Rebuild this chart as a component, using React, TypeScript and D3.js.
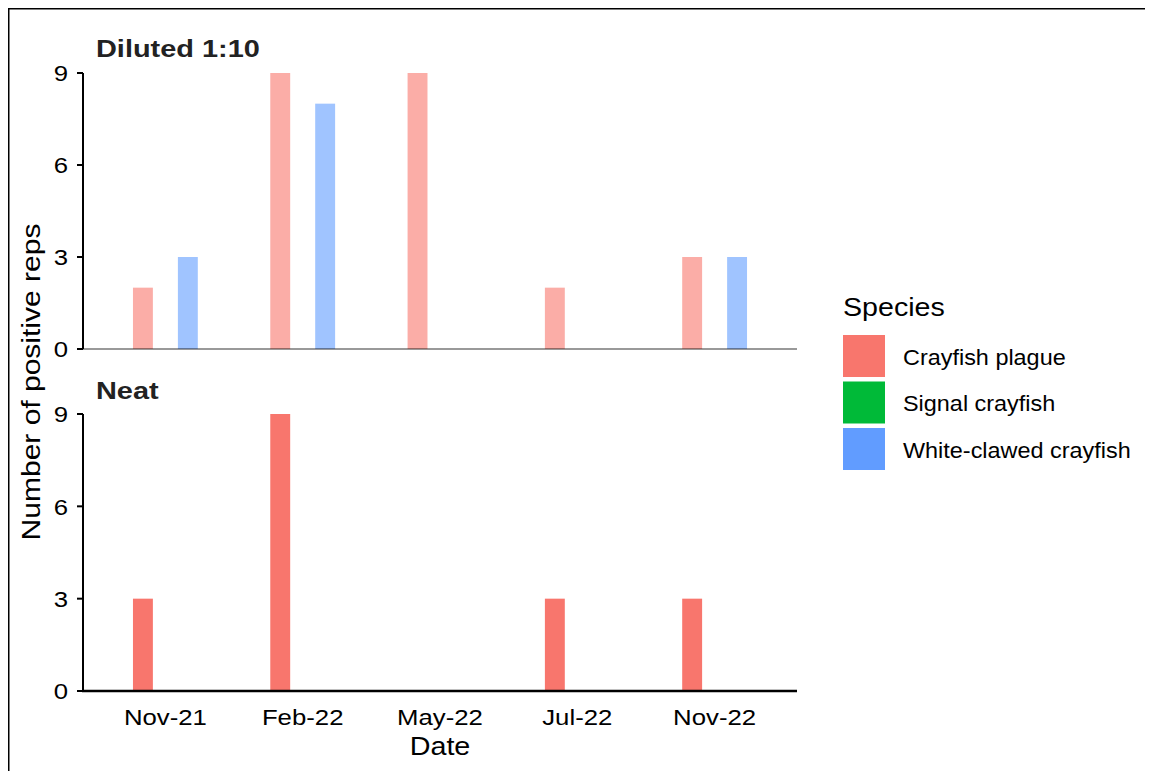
import React from "react";
import * as d3 from "d3";

const dates = ["Nov-21", "Feb-22", "May-22", "Jul-22", "Nov-22"];
const species = ["Crayfish plague", "Signal crayfish", "White-clawed crayfish"];
const speciesColors = ["#F8766D", "#00BA38", "#619CFF"];
const yTicks = [0, 3, 6, 9];

// values per date, in species order
const dilutedPlague = [2, 9, 9, 2, 3];
const dilutedSignal = [0, 0, 0, 0, 0];
const dilutedWhite = [3, 8, 0, 0, 3];
const neatPlague = [3, 9, 0, 3, 3];
const neatSignal = [0, 0, 0, 0, 0];
const neatWhite = [0, 0, 0, 0, 0];

const panels = [
  { title: "Diluted 1:10", series: [dilutedPlague, dilutedSignal, dilutedWhite], faded: true },
  { title: "Neat", series: [neatPlague, neatSignal, neatWhite], faded: false },
];

const FONT = "'Liberation Sans', Arial, sans-serif";
const OFF = 8; // body margin, draw in page coordinates

// text with a small horizontal stretch, the reference font runs wide
const T = ({ x, y, sx = 1.12, rot = 0, size, anchor = "start", weight = "normal", fill = "#000", dy, children }: any) => (
  <text
    transform={`translate(${x},${y}) rotate(${rot}) scale(${sx},1)`}
    textAnchor={anchor}
    fontSize={size}
    fontWeight={weight}
    fill={fill}
    dy={dy}
  >
    {children}
  </text>
);

const App = () => {
  const left = 83;
  const right = 797;
  const x = d3.scalePoint<string>().domain(dates).range([left, right]).padding(0.6);
  const step = x.step();
  const slot = step * 0.1636;
  const barW = step * 0.145;
  const dodge = d3
    .scaleBand<string>()
    .domain(species)
    .range([-slot * 1.5, slot * 1.5]);

  const panelY = [
    { top: 73, bottom: 349 },
    { top: 414, bottom: 691 },
  ];

  return (
    <svg width={1145} height={763} style={{ display: "block", fontFamily: FONT }}>
      <line x1={0.75} y1={0} x2={0.75} y2={763} stroke="#000" strokeWidth={1.5} />
      <line x1={0} y1={0.75} x2={1145} y2={0.75} stroke="#000" strokeWidth={1.5} />
      <g transform={`translate(${-OFF},${-OFF})`}>
        {panels.map((p, pi) => {
          const y = d3
            .scaleLinear()
            .domain([0, 9])
            .range([panelY[pi].bottom, panelY[pi].top]);
          return (
            <g key={p.title}>
              <T x={96} y={pi === 0 ? 57 : 399} size={24.5} sx={1.18} weight="bold" fill="#222">
                {p.title}
              </T>
              {p.series.map((vals, si) =>
                vals.map((v, di) =>
                  v > 0 ? (
                    <rect
                      key={`${si}-${di}`}
                      x={(x(dates[di]) as number) + (dodge(species[si]) as number) + (dodge.bandwidth() - barW) / 2}
                      y={y(v)}
                      width={barW}
                      height={y(0) - y(v)}
                      fill={speciesColors[si]}
                      fillOpacity={p.faded ? 0.6 : 1}
                    />
                  ) : null
                )
              )}
              <line
                x1={left}
                x2={left}
                y1={panelY[pi].top}
                y2={panelY[pi].bottom + (pi === 0 ? 0 : 1)}
                stroke="#000"
                strokeWidth={2}
              />
              {yTicks.map((t) => (
                <g key={t}>
                  <line x1={left - 6} x2={left} y1={y(t)} y2={y(t)} stroke="#000" strokeWidth={2} />
                  <T x={68} y={y(t)} dy="0.36em" anchor="end" size={23}>
                    {t}
                  </T>
                </g>
              ))}
              {pi === 0 ? (
                <line x1={left} x2={right} y1={y(0)} y2={y(0)} stroke="#000" strokeOpacity={0.4} strokeWidth={2} />
              ) : (
                <line x1={left - 1} x2={right} y1={y(0)} y2={y(0)} stroke="#000" strokeWidth={2.5} />
              )}
            </g>
          );
        })}
        {dates.map((d) => (
          <T key={d} x={x(d)} y={725} anchor="middle" size={23}>
            {d}
          </T>
        ))}
        <T x={(left + right) / 2} y={755} anchor="middle" size={25} sx={1.15}>
          Date
        </T>
        <T x={40} y={(229 + 535) / 2} rot={-90} anchor="middle" size={25} sx={1.2}>
          Number of positive reps
        </T>
        <T x={843} y={316} size={26} sx={1.1}>
          Species
        </T>
        {species.map((s, i) => (
          <g key={s} transform={`translate(843,${335 + i * 46.5})`}>
            <rect width={42} height={42} fill={speciesColors[i]} />
            <T x={60} y={22} dy="0.36em" size={21.5} sx={1.09}>
              {s}
            </T>
          </g>
        ))}
      </g>
    </svg>
  );
};

export default App;
